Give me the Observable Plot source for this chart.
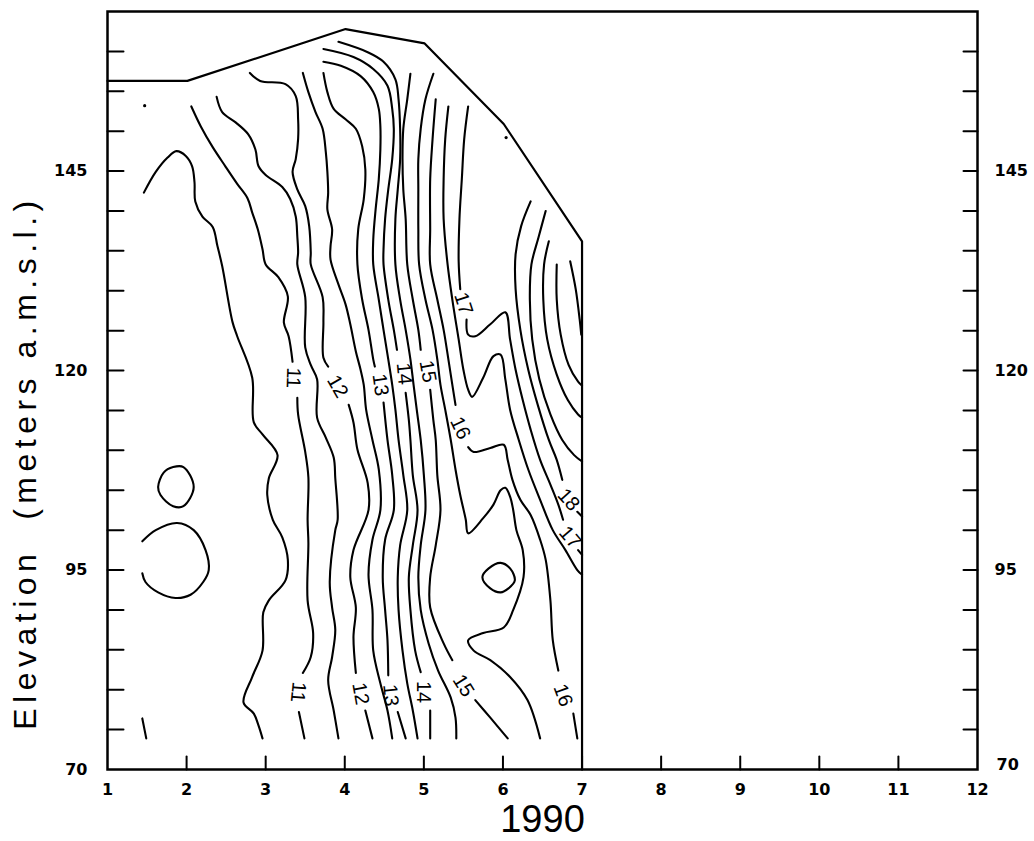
<!DOCTYPE html>
<html>
<head>
<meta charset="utf-8">
<script src="https://cdn.jsdelivr.net/npm/d3@7"></script>
<script src="https://cdn.jsdelivr.net/npm/@observablehq/plot@0.6"></script>
<style>
html,body{margin:0;padding:0;background:#fff;}
#chart svg{display:block;}
</style>
</head>
<body>
<div id="chart"></div>
<script>
// ---- axis values ----
const months = [1,2,3,4,5,6,7,8,9,10,11,12];
const monthTicks = [2,3,4,5,6,7,8,9,10,11];
const elevTicks = [75,80,85,90,95,100,105,110,115,120,125,130,135,140,145,150,155,160];
const elevLabels = [70,95,120,145];
const xTitle = "1990";
const yTitle = "Elevation  (meters a.m.s.l.)";

// ---- data-domain outline (month, elevation) ----
const boundary = [[1,156.3],[2.01,156.3],[4.01,162.8],[5.01,161.0],[6.01,150.9],[7.0,136.2],[7.0,70]];

// ---- contour lines (month, elevation); null = gap for a label ----
const c100a = [[1.44,76.4],[1.49,73.9]];
const c100c = [[1.44,98.6],[1.61,100.0],[1.88,100.9],[2.09,100.0],[2.24,97.5],[2.28,95.0],[2.21,93.5],[2.05,91.9],[1.86,91.5],[1.64,92.2],[1.48,93.5],[1.44,94.6]];
const c105 = [[1.46,142.3],[1.61,144.9],[1.76,146.7],[1.87,147.5],[1.99,146.9],[2.07,145.6],[2.10,143.6],[2.11,141.2],[2.20,139.3],[2.33,138.0],[2.39,135.6],[2.45,133.1],[2.58,126.1],[2.64,124.3],[2.83,119.1],[2.85,113.5],[2.96,112.0],[3.15,109.4],[3.04,106.5],[3.02,104.4],[3.09,101.3],[3.21,99.1],[3.28,96.3],[3.25,93.7],[3.04,91.2],[2.97,89.7],[2.96,84.9],[2.83,81.6],[2.72,78.4],[2.85,77.0],[2.91,75.5],[2.96,73.9]];
const c11 = [[2.06,153.1],[2.18,150.6],[2.33,148.0],[2.49,145.6],[2.64,143.4],[2.77,141.6],[2.83,139.8],[2.90,137.7],[2.96,135.2],[3.00,133.3],[3.16,131.7],[3.28,129.3],[3.23,126.0],[3.29,124.3],[3.34,121.1],null,[3.40,116.6],[3.41,114.5],[3.50,109.8],[3.54,106.6],[3.53,101.3],[3.54,98.4],[3.53,91.2],[3.60,87.1],[3.57,84.1],[3.47,82.1],null,[3.42,77.2],[3.49,73.9]];
const c115 = [[2.38,154.3],[2.45,152.4],[2.62,151.1],[2.78,149.6],[2.87,147.7],[2.91,145.6],[3.00,144.5],[3.21,143.0],[3.31,141.5],[3.38,139.3],[3.40,136.8],[3.41,134.8],[3.40,133.3],[3.50,129.2],[3.50,122.9],[3.57,120.7],[3.65,118.9],[3.65,114.1],[3.76,111.6],[3.86,109.1],[3.88,106.5],[3.91,101.3],[3.88,100.0],[3.81,93.5],[3.84,90.3],[3.88,87.5],[3.84,84.1],[3.79,81.2],[3.86,77.4],[3.92,73.9]];
const c12 = [[2.80,157.3],[2.93,156.3],[3.25,155.9],[3.38,154.4],[3.41,151.5],[3.41,149.0],[3.38,146.5],[3.34,144.9],[3.40,142.7],[3.50,140.6],[3.55,138.1],[3.57,134.8],[3.57,133.3],[3.72,129.2],[3.73,126.1],[3.73,121.6],[3.79,120.5],null,[4.05,115.7],[4.11,113.5],[4.16,110.1],[4.29,105.9],[4.30,102.5],[4.11,97.5],[4.07,94.1],[4.14,90.3],[4.11,86.6],[4.14,82.1],null,[4.26,77.4],[4.35,73.9]];
const c125 = [[3.47,157.3],[3.54,154.9],[3.63,152.4],[3.72,150.3],[3.76,147.4],[3.78,144.9],[3.79,142.3],[3.78,140.2],[3.84,137.7],[3.82,135.6],[3.82,133.9],[3.92,130.8],[4.01,128.3],[4.07,125.8],[4.14,122.4],[4.20,120.1],[4.24,118.2],[4.27,115.1],[4.35,111.3],[4.43,107.6],[4.45,102.5],[4.35,98.8],[4.30,94.4],[4.35,90.0],[4.36,84.9],[4.45,80.8],[4.54,77.4],[4.60,73.9]];
const c13 = [[3.73,157.3],[3.78,154.9],[3.86,152.8],[4.01,151.5],[4.14,150.3],[4.22,148.1],[4.26,145.2],[4.24,141.5],[4.17,137.7],[4.16,133.3],[4.22,128.9],[4.30,125.1],[4.36,121.4],[4.38,120.5],null,[4.49,116.0],[4.54,111.3],[4.60,106.9],[4.62,102.5],[4.51,98.8],[4.48,94.1],[4.51,90.0],[4.54,86.2],[4.55,81.8],null,[4.67,77.2],[4.77,73.9]];
const c135 = [[3.73,158.7],[3.95,158.2],[4.20,156.9],[4.36,154.9],[4.43,152.8],[4.45,150.6],[4.45,147.7],[4.43,144.0],[4.39,140.2],[4.36,136.4],[4.36,133.3],[4.43,128.9],[4.49,125.1],[4.55,121.4],[4.60,118.2],[4.64,115.1],[4.68,111.3],[4.74,106.9],[4.79,102.5],[4.70,98.1],[4.67,94.1],[4.68,90.0],[4.73,84.9],[4.79,80.8],[4.86,77.4],[4.92,73.9]];
const c14 = [[3.73,160.3],[4.11,159.3],[4.36,157.8],[4.54,155.7],[4.60,152.8],[4.62,150.3],[4.60,146.5],[4.55,142.7],[4.51,139.0],[4.49,135.2],[4.49,133.3],[4.55,128.9],[4.62,125.1],[4.66,122.6],null,[4.77,117.2],[4.81,113.8],[4.83,111.3],[4.86,106.9],[4.92,102.5],[4.86,98.1],[4.81,94.1],[4.83,90.0],[4.89,84.9],[4.96,82.2],null,[5.08,77.4],[5.08,73.9]];
const c145 = [[3.92,161.2],[4.29,159.9],[4.49,158.7],[4.64,156.5],[4.68,154.0],[4.70,150.3],[4.70,146.5],[4.67,142.7],[4.64,139.0],[4.64,133.3],[4.70,128.9],[4.77,125.1],[4.83,121.4],[4.87,118.2],[4.91,115.1],[4.96,111.3],[5.00,106.9],[5.02,102.5],[4.96,98.1],[4.93,94.1],[4.96,90.0],[5.06,85.8],[5.18,82.4],[5.34,79.0],[5.40,76.5],[5.41,73.9]];
const c15 = [[4.83,157.2],[4.79,154.0],[4.74,150.3],[4.73,146.5],[4.74,142.7],[4.77,139.0],[4.79,133.3],[4.86,128.9],[4.93,125.1],[4.96,122.6],null,[5.08,117.6],[5.12,113.8],[5.15,111.3],[5.17,106.9],[5.21,102.5],[5.15,98.1],[5.08,94.1],[5.08,90.3],[5.25,85.8],[5.36,83.7],null,[5.65,78.7],[5.84,76.5],[6.06,73.9]];
const c155 = [[5.12,157.2],[5.02,154.0],[4.96,150.3],[4.93,146.5],[4.93,142.7],[4.93,137.7],[4.94,133.3],[5.02,128.9],[5.11,125.1],[5.17,121.4],[5.21,118.2],[5.27,115.1],[5.34,111.3],[5.40,107.6],[5.46,104.4],[5.53,101.3],[5.56,99.6],[5.75,101.5],[5.88,103.2],[5.97,105.0],[6.03,105.3],[6.09,104.2],[6.13,102.5],[6.17,100.0],[6.25,97.5],[6.26,94.1],[6.13,90.0],[6.01,87.8],[5.75,87.1],[5.56,86.2],[5.63,84.9],[5.84,83.7],[6.09,81.6],[6.31,78.7],[6.47,73.9]];
const c16 = [[5.15,154.0],[5.11,149.0],[5.08,144.0],[5.08,137.7],[5.08,133.3],[5.17,128.9],[5.25,125.1],[5.31,121.4],[5.36,118.2],[5.40,115.7],null,[5.56,110.4],[5.63,109.8],[5.84,110.3],[6.01,110.7],[6.06,108.8],[6.12,106.3],[6.22,103.8],[6.35,101.9],[6.47,98.8],[6.54,96.3],[6.60,91.2],[6.63,86.2],[6.70,82.4],null,[6.89,77.0],[6.94,73.9]];
const c165 = [[5.31,153.1],[5.27,149.0],[5.25,144.0],[5.25,139.0],[5.30,133.3],[5.36,128.9],[5.44,123.9],[5.50,120.1],[5.56,117.6],[5.61,116.7],[5.75,119.1],[5.88,121.8],[5.97,122.0],[6.03,118.9],[6.09,115.1],[6.20,111.3],[6.32,107.6],[6.47,103.8],[6.63,100.0],[6.79,97.5],[6.94,95.0],[7.00,94.4]];
const c17 = [[5.56,153.1],[5.51,149.0],[5.48,144.0],[5.45,139.0],[5.44,133.7],[5.46,130.2],null,[5.54,126.4],[5.56,124.5],[5.65,124.3],[5.84,125.8],[6.03,127.3],[6.09,123.9],[6.16,120.1],[6.25,116.3],[6.35,112.6],[6.47,108.8],[6.60,105.7],[6.70,103.2],[6.76,101.3],null,[6.95,97.5],[7.00,96.9]];
const cF1 = [[6.35,141.2],[6.23,138.1],[6.16,134.6],[6.16,130.2],[6.22,125.1],[6.32,120.1],[6.44,115.7],[6.58,111.3],[6.68,108.8],[6.75,106.3],null,[6.94,102.3],[7.00,101.7]];
const cF2 = [[6.54,140.0],[6.45,136.7],[6.36,133.3],[6.34,128.9],[6.37,123.9],[6.46,118.9],[6.60,114.5],[6.75,111.3],[6.90,109.4],[7.00,108.6]];
const cF3 = [[6.58,136.2],[6.52,133.3],[6.51,128.9],[6.56,123.9],[6.68,119.5],[6.82,116.3],[6.95,114.5],[7.00,114.1]];
const cF4 = [[6.68,133.3],[6.68,128.9],[6.73,124.5],[6.83,120.7],[6.95,118.6],[7.00,118.1]];
const cF5 = [[6.85,133.7],[6.92,130.2],[6.97,126.4],[6.99,124.5]];

// closed loops
const loop2 = [[1.64,105.4],[1.71,107.2],[1.83,107.9],[1.96,107.9],[2.09,105.4],[1.96,103.0],[1.83,103.0],[1.67,104.4]];
const loop6 = [[5.74,94.1],[5.82,95.2],[5.97,95.9],[6.09,95.2],[6.15,93.7],[6.07,92.7],[5.97,92.2],[5.84,92.7]];

// specks
const dots = [[1.47,153.2],[6.04,149.2]];

// contour labels
const labelText  = ["11","12","13","14","15","16","17","18","17","11","12","13","14","15","16"];
const labelMonth = [3.35,3.91,4.45,4.75,5.05,5.46,5.50,6.83,6.85,3.41,4.20,4.58,5.00,5.50,6.76];
const labelElev  = [119.1,118.0,118.2,119.6,119.9,112.8,128.4,103.8,99.1,79.7,79.5,79.3,79.7,80.5,79.3];
const labelAngle = [92,60,82,85,80,65,72,48,50,95,80,85,90,58,70];

// ---- build tables ----
const openLines = {c100a,c100c,c105,c11,c115,c12,c125,c13,c135,c14,c145,c15,c155,c16,c165,c17,cF1,cF2,cF3,cF4,cF5};
const lineRows = Object.entries(openLines).flatMap(([id, pts]) =>
  pts.map(p => ({id, m: p ? p[0] : NaN, e: p ? p[1] : NaN})));
const loopRows = Object.entries({loop2, loop6}).flatMap(([id, pts]) =>
  pts.map(p => ({id, m: p[0], e: p[1]})));
const labels = labelText.map((t, i) => ({t, m: labelMonth[i], e: labelElev[i], a: labelAngle[i]}));

const tickShape = {draw(ctx, l) { ctx.moveTo(0, 0); ctx.lineTo(0, -l); }};
const font = "'Liberation Sans', Arial, Helvetica, sans-serif";
const tickFont = "'DejaVu Sans', Verdana, sans-serif";

const chart = Plot.plot({
  width: 1034,
  height: 841,
  marginLeft: 107,
  marginRight: 57,
  marginTop: 11,
  marginBottom: 72,
  x: {domain: [1, 12], axis: null},
  y: {domain: [70, 165], axis: null},
  style: {fontFamily: font, background: "#fff", color: "#000", overflow: "visible"},
  marks: [
    Plot.line(boundary, {x: d => d[0], y: d => d[1], stroke: "#000", strokeWidth: 2.2}),
    Plot.line(lineRows, {x: "m", y: "e", z: "id", curve: "catmull-rom", stroke: "#000", strokeWidth: 2.1}),
    Plot.line(loopRows, {x: "m", y: "e", z: "id", curve: "catmull-rom-closed", stroke: "#000", strokeWidth: 2.1}),
    Plot.dot(dots, {x: d => d[0], y: d => d[1], r: 1.6, fill: "#000", stroke: null}),
    Plot.text(labels, {x: "m", y: "e", text: "t", rotate: "a", fontSize: 20, fill: "#000"}),
    Plot.frame({stroke: "#000", strokeWidth: 2.5}),
    Plot.vector(elevTicks, {y: d => d, frameAnchor: "left", anchor: "start", length: 16, rotate: 90, shape: tickShape, stroke: "#000", strokeWidth: 2}),
    Plot.vector(elevTicks, {y: d => d, frameAnchor: "right", anchor: "start", length: 14, rotate: -90, shape: tickShape, stroke: "#000", strokeWidth: 2}),
    Plot.vector(monthTicks, {x: d => d, frameAnchor: "bottom", anchor: "start", length: 13, rotate: 0, shape: tickShape, stroke: "#000", strokeWidth: 2}),
    Plot.text(elevLabels, {y: d => d, text: d => String(d), frameAnchor: "left", dx: -20, textAnchor: "end", lineAnchor: "middle", fontFamily: tickFont, fontSize: 16, fontWeight: "bold"}),
    Plot.text(elevLabels.filter(d => d !== 70), {y: d => d, text: d => String(d), frameAnchor: "right", dx: 17, textAnchor: "start", lineAnchor: "middle", fontFamily: tickFont, fontSize: 16, fontWeight: "bold"}),
    Plot.text(elevLabels.filter(d => d === 70), {y: d => d, text: d => String(d), frameAnchor: "right", dx: 19, dy: -5, textAnchor: "start", lineAnchor: "middle", fontFamily: tickFont, fontSize: 16, fontWeight: "bold"}),
    Plot.text(months, {x: d => d, text: d => String(d), frameAnchor: "bottom", dy: 20, textAnchor: "middle", lineAnchor: "middle", fontFamily: tickFont, fontSize: 16, fontWeight: "bold"}),
    Plot.text([xTitle], {frameAnchor: "bottom", dy: 50, textAnchor: "middle", lineAnchor: "middle", fontSize: 38}),
    Plot.text([yTitle], {frameAnchor: "left", dx: -82, dy: 72, rotate: -90, textAnchor: "middle", lineAnchor: "middle", fontSize: 32})
  ]
});

document.getElementById("chart").appendChild(chart);
d3.select(chart).selectAll("text")
  .filter(function() { return this.textContent === yTitle; })
  .style("letter-spacing", "5.5px");
</script>
</body>
</html>
